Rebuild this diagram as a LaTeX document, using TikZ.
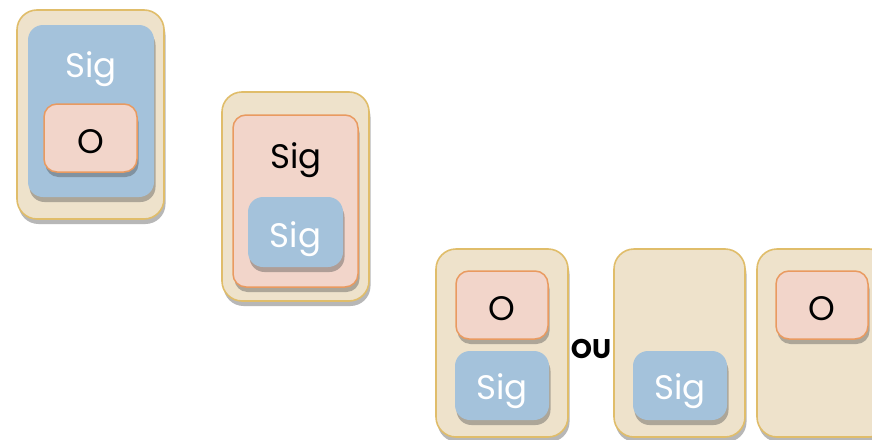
\documentclass[tikz,border=0pt]{standalone}
\usepackage{fontspec}
\setmainfont{Poppins}
\usetikzlibrary{shadows}
\definecolor{tanfill}{HTML}{EEE2CB}
\definecolor{tanline}{HTML}{E0BD6A}
\definecolor{bluefill}{HTML}{A4C2DB}
\definecolor{pinkfill}{HTML}{F2D5CA}
\definecolor{pinkline}{HTML}{E99A60}
\tikzset{
  shad/.style={drop shadow={shadow xshift=1.5pt, shadow yshift=-5pt, opacity=0.4, fill=black!70}},
  outerbox/.style={shad, draw=tanline, fill=tanfill, line width=1.6pt, rounded corners=20pt, inner sep=0pt},
  bluebox/.style={shad, fill=bluefill, rounded corners=15pt, inner sep=0pt},
  pinkbox/.style={shad, draw=pinkline, fill=pinkfill, line width=1.5pt, rounded corners=13pt, inner sep=0pt},
  wtxt/.style={text=white, anchor=base, inner sep=0pt, font=\fontsize{34}{36}\selectfont},
  btxt/.style={text=black, anchor=base, inner sep=0pt, font=\fontsize{34}{36}\selectfont},
}
\begin{document}
\begin{tikzpicture}[x=1pt,y=-1pt]
\clip (0,0) rectangle (872,439);
\fill[white] (0,0) rectangle (872,439);
% group 1
\node[outerbox, minimum width=147pt, minimum height=209pt] (o1) at (90.5,114.5) {};
\node[bluebox, minimum width=126pt, minimum height=172pt] (b1) at (91,111) {};
\node[wtxt] (s1) at (91,77) {Sig};
\node[pinkbox, minimum width=93pt, minimum height=68pt] (p1) at (90.5,138) {};
\node[btxt] (t1) at (90.5,153) {O};
% group 2
\node[outerbox, minimum width=147pt, minimum height=209pt] (o2) at (295.5,196.5) {};
\node[pinkbox, minimum width=125pt, minimum height=172pt] (p2) at (295.5,201) {};
\node[btxt] (s2) at (296,168) {Sig};
\node[bluebox, minimum width=95pt, minimum height=70pt] (b2) at (295.5,232) {};
\node[wtxt] (t2) at (295.5,247) {Sig};
% group 3
\node[outerbox, minimum width=132pt, minimum height=188pt] (o3) at (502,343) {};
\node[pinkbox, minimum width=92pt, minimum height=68pt] (p3) at (502,305) {};
\node[btxt] (t3) at (502,320) {O};
\node[bluebox, minimum width=94pt, minimum height=69pt] (b3) at (502,385.5) {};
\node[wtxt] (t4) at (502,399) {Sig};
\node[anchor=base, inner sep=0pt, font=\fontsize{27}{29}\selectfont\bfseries] (ou) at (591,358) {OU};
\node[outerbox, minimum width=131pt, minimum height=188pt] (o4) at (679.5,343) {};
\node[bluebox, minimum width=94pt, minimum height=69pt] (b4) at (680,385.5) {};
\node[wtxt] (t5) at (680,399) {Sig};
\node[outerbox, minimum width=132pt, minimum height=188pt] (o5) at (823,343) {};
\node[pinkbox, minimum width=92pt, minimum height=68pt] (p5) at (822,305) {};
\node[btxt] (t6) at (822,320) {O};
\end{tikzpicture}
\end{document}
